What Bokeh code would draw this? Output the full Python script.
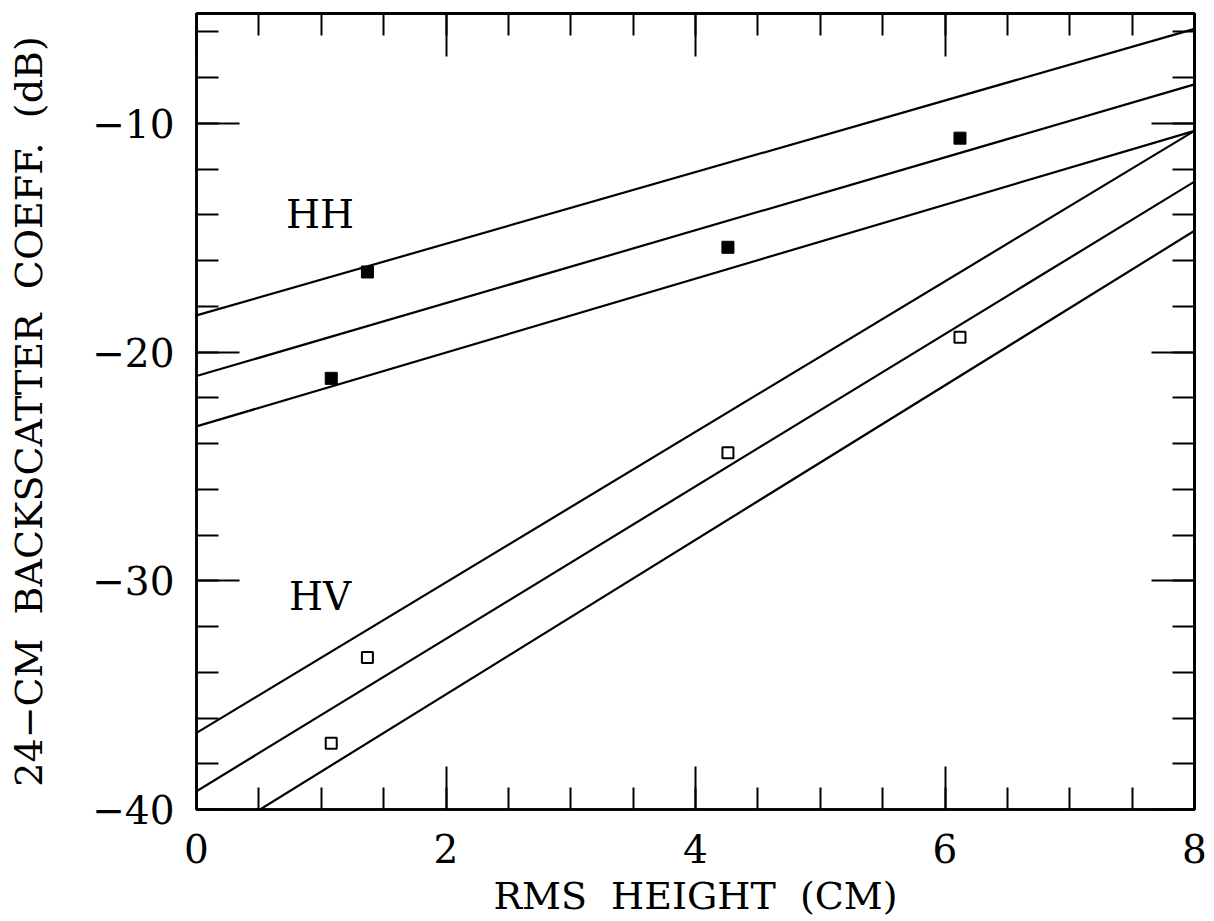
from bokeh.plotting import figure
from bokeh.models import Range1d, LinearAxis, FixedTicker, ColumnDataSource
from bokeh.core.properties import value
from bokeh.embed import file_html
from bokeh.resources import INLINE

# ---- data ----
hh_x = [1.08, 1.37, 4.26, 6.12]
hh_y = [-21.15, -16.5, -15.42, -10.65]
hv_x = [1.08, 1.37, 4.26, 6.12]
hv_y = [-37.1, -33.35, -24.4, -19.35]

line_x = [0, 8]
hh_upper = [-18.4, -5.87]
hh_mid = [-21.05, -8.3]
hh_lower = [-23.25, -10.33]
hv_upper = [-36.65, -10.33]
hv_mid = [-39.2, -12.55]
hv_lower = [-41.72, -14.7]

label_text = ["HH", "HV"]
label_x = [0.99, 0.99]
label_y = [-14.0, -30.7]

x_major = [0, 2, 4, 6, 8]
x_minor = [i * 0.5 for i in range(17)]
y_major = [-40, -30, -20, -10]
y_minor = list(range(-40, -4, 2))
y_labels = {-40: "\u221240", -30: "\u221230", -20: "\u221220", -10: "\u221210"}

SP = "\u00a0\u00a0"
x_title = "RMS" + SP + "HEIGHT" + SP + "(CM)"
y_title = "24\u2212CM" + SP + "BACKSCATTER" + SP + "COEFF." + SP + "(dB)"

FONT = "DejaVu Serif"

p = figure(width=1214, height=921, output_backend="svg", toolbar_location=None,
           x_range=Range1d(0, 8), y_range=Range1d(-40, -5.2),
           x_axis_type=None, y_axis_type=None,
           min_border_left=196, min_border_right=20, min_border_top=13, min_border_bottom=112)
p.background_fill_color = "white"
p.border_fill_color = "white"
p.outline_line_color = "black"
p.outline_line_width = 2.5
p.grid.visible = False


def style(ax):
    ax.axis_line_color = "black"
    ax.axis_line_width = 2.5
    ax.major_tick_line_color = "black"
    ax.minor_tick_line_color = "black"
    ax.major_tick_line_width = 2
    ax.minor_tick_line_width = 2
    ax.major_tick_in = 43
    ax.major_tick_out = 0
    ax.minor_tick_in = 22
    ax.minor_tick_out = 0
    ax.major_label_text_font = FONT
    ax.major_label_text_color = "black"
    ax.major_label_text_font_size = "39px"
    ax.axis_label_text_font = FONT
    ax.axis_label_text_font_style = "normal"
    ax.axis_label_text_color = "black"
    ax.axis_label_text_font_size = "38px"


xb = LinearAxis(ticker=FixedTicker(ticks=x_major, minor_ticks=x_minor), axis_label=x_title)
style(xb)
xb.major_label_standoff = 24
xb.axis_label_standoff = 8
p.add_layout(xb, "below")

yl = LinearAxis(ticker=FixedTicker(ticks=y_major, minor_ticks=y_minor), axis_label=y_title)
style(yl)
yl.major_label_overrides = y_labels
yl.major_label_standoff = 22
yl.axis_label_standoff = 38
p.add_layout(yl, "left")

# mirrored tick marks (no labels): long ticks at major positions, short ticks at minor ones
for side, major, minor in [("above", x_major, x_minor), ("right", y_major, y_minor)]:
    long_ax = LinearAxis(ticker=FixedTicker(ticks=[], minor_ticks=major))
    style(long_ax)
    long_ax.minor_tick_in = 43
    p.add_layout(long_ax, side)
    short_ax = LinearAxis(ticker=FixedTicker(ticks=[], minor_ticks=minor))
    style(short_ax)
    p.add_layout(short_ax, side)

for ys in [hh_upper, hh_mid, hh_lower, hv_upper, hv_mid, hv_lower]:
    p.line(line_x, ys, line_color="black", line_width=2.2)

p.scatter(hh_x, hh_y, marker="square", size=12, fill_color="black", line_color="black")
p.scatter(hv_x, hv_y, marker="square", size=11, fill_color="white", line_color="black", line_width=2)

src = ColumnDataSource(dict(x=label_x, y=label_y, t=label_text))
p.text("x", "y", text="t", source=src, text_font=value(FONT), text_font_size="39px",
       text_align="center", text_baseline="middle", text_color="black")

open("out.html", "w").write(file_html(p, INLINE))
